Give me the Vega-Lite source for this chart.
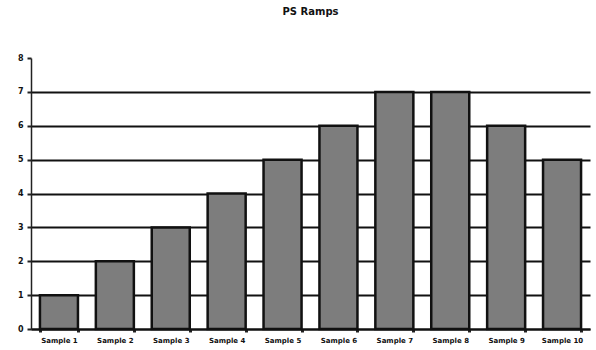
{
  "$schema": "https://vega.github.io/schema/vega-lite/v6.json",
  "width": 559,
  "height": 271,
  "autosize": {"type": "none"},
  "padding": {"left": 31, "top": 58, "right": 6, "bottom": 21},
  "background": "white",
  "title": {
    "text": "PS Ramps",
    "font": "DejaVu Sans",
    "fontSize": 10,
    "fontWeight": "bold",
    "color": "#111",
    "offset": 37,
    "anchor": "middle"
  },
  "data": {
    "values": [
      {"label": "Sample 1", "value": 1},
      {"label": "Sample 2", "value": 2},
      {"label": "Sample 3", "value": 3},
      {"label": "Sample 4", "value": 4},
      {"label": "Sample 5", "value": 5},
      {"label": "Sample 6", "value": 6},
      {"label": "Sample 7", "value": 7},
      {"label": "Sample 8", "value": 7},
      {"label": "Sample 9", "value": 6},
      {"label": "Sample 10", "value": 5}
    ]
  },
  "mark": {"type": "bar", "fill": "#7d7d7d", "stroke": "#111", "strokeWidth": 2.5},
  "encoding": {
    "x": {
      "field": "label",
      "type": "nominal",
      "sort": null,
      "scale": {"paddingInner": 0.32, "paddingOuter": 0.16},
      "axis": {
        "title": null,
        "labelAngle": 0,
        "labelFont": "DejaVu Sans",
        "labelFontSize": 7,
        "labelFontWeight": "bold",
        "labelColor": "#111",
        "labelPadding": 4,
        "tickBand": "extent",
        "tickSize": 3,
        "tickWidth": 3,
        "tickColor": "#222",
        "domainColor": "#111",
        "domainWidth": 2
      }
    },
    "y": {
      "field": "value",
      "type": "quantitative",
      "scale": {"domain": [0, 8]},
      "axis": {
        "title": null,
        "values": [0, 1, 2, 3, 4, 5, 6, 7, 8],
        "labelFont": "DejaVu Sans",
        "labelFontSize": 8,
        "labelFontWeight": "bold",
        "labelColor": "#111",
        "labelPadding": 4,
        "tickSize": 4,
        "tickWidth": 2,
        "tickColor": "#222",
        "domainColor": "#222",
        "domainWidth": 1.5,
        "gridColor": "#111",
        "gridWidth": 2,
        "gridOpacity": {"condition": {"test": "datum.value >= 8", "value": 0}, "value": 1}
      }
    }
  },
  "config": {"view": {"stroke": null}}
}
